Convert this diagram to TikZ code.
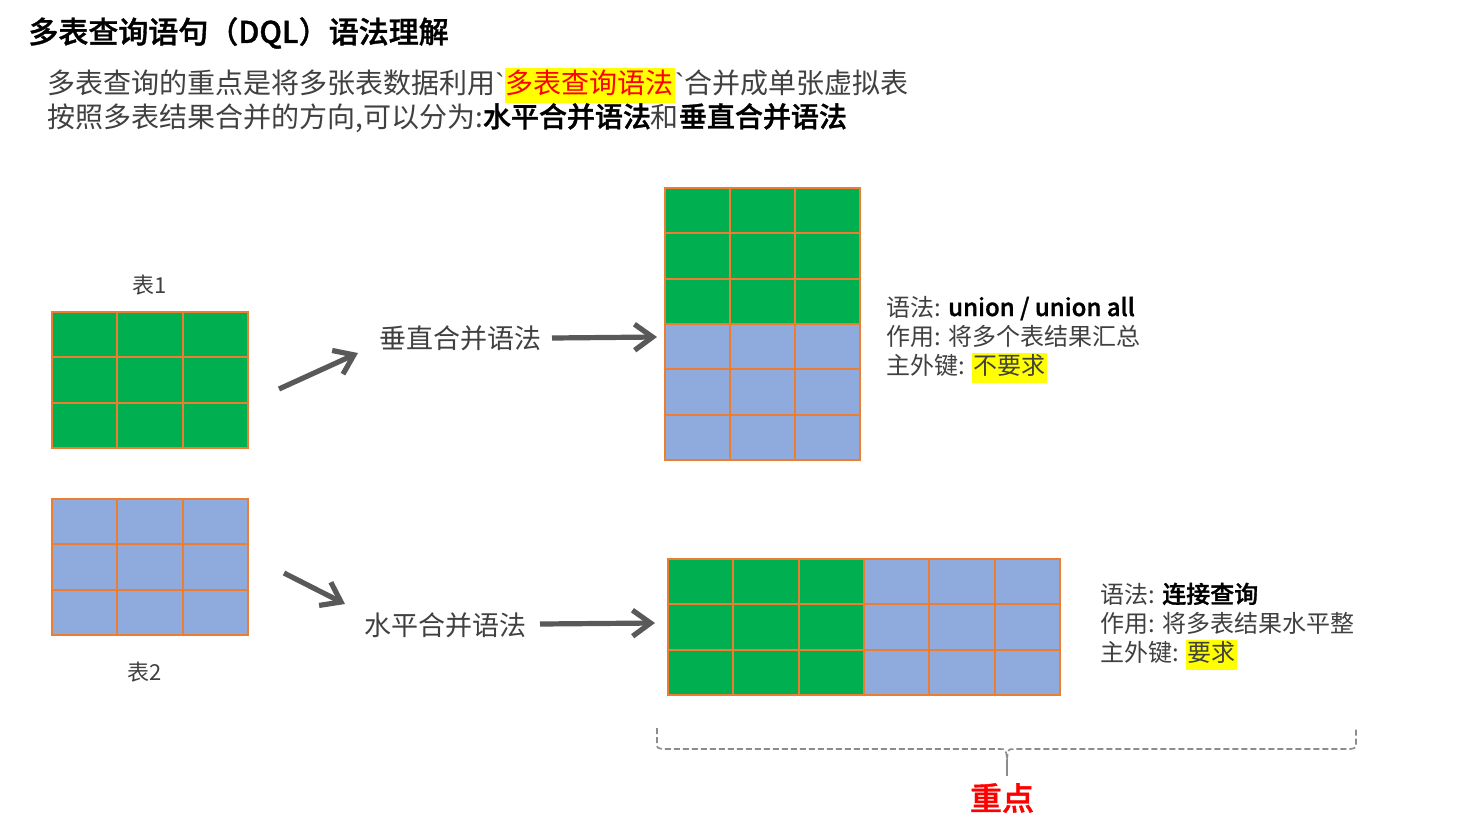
\documentclass[tikz,border=0pt]{standalone}
\usepackage{fontspec}
\newfontfamily\cjk{Noto Sans CJK SC}[BoldFont={Noto Sans CJK SC Medium},BoldFeatures={FakeBold=1.2}]
\newfontfamily\latgrave{Liberation Sans}
\usetikzlibrary{arrows.meta}
\definecolor{cg}{HTML}{00B050}
\definecolor{cb}{HTML}{8FAADC}
\definecolor{co}{HTML}{ED7D31}
\definecolor{ca}{HTML}{595959}
\definecolor{ct}{HTML}{404040}
\definecolor{hl}{HTML}{FFFF00}
\definecolor{cr}{HTML}{FF0000}
\newcommand\hlbox[1]{{\setlength{\fboxsep}{0.6pt}\colorbox{hl}{\strut #1}}}
\newcommand\grv{{\latgrave\symbol{96}}}
\begin{document}
\begin{tikzpicture}[x=0.5pt,y=-0.5pt,
  every node/.style={font=\cjk, inner sep=0pt, text=ct},
  cell/.style={draw=co, line width=1pt},
  arr/.style={draw=ca, line width=2.6pt, -{Straight Barb[length=9pt,width=13pt,line width=2.6pt]}},
  lbl/.style={font=\cjk\fontsize{13.5}{16}\selectfont, anchor=center},
  info/.style={font=\cjk\fontsize{12}{12.5}\selectfont, anchor=base west},
  body/.style={font=\cjk\fontsize{14}{14.2}\selectfont, anchor=base west},
  brace/.style={draw=black!45, line width=0.8pt, dash pattern=on 3pt off 1.5pt}]
\useasboundingbox[fill=white] (0,0) rectangle (1457,821);

% title and body
\node[anchor=west, text=black, font=\cjk\bfseries\fontsize{15}{18}\selectfont] (title) at (28,33) {多表查询语句（DQL）语法理解};
\node[body] (l1) at (47,93) {多表查询的重点是将多张表数据利用\grv\hlbox{\textcolor{cr}{多表查询语法}}\grv 合并成单张虚拟表};
\node[body] (l2) at (47,127) {按照多表结果合并的方向,可以分为:{\bfseries\color{black}水平合并语法}和{\bfseries\color{black}垂直合并语法}};

% table 1 (green)
\node (cap1) at (150,285) {\fontsize{11}{13}\selectfont 表1};
\node (t1) at (150,380) [minimum width=98pt, minimum height=68pt] {};
\foreach \i in {0,1,2} \foreach \j in {0,1,2}
  \draw[cell, fill=cg] (52+65.33*\i,312+45.33*\j) rectangle ++(65.33,45.33);

% table 2 (blue)
\node (t2) at (150,567) [minimum width=98pt, minimum height=68pt] {};
\foreach \i in {0,1,2} \foreach \j in {0,1,2}
  \draw[cell, fill=cb] (52+65.33*\i,499+45.33*\j) rectangle ++(65.33,45.33);
\node (cap2) at (145,672) {\fontsize{11}{13}\selectfont 表2};

% vertical result
\node (vres) at (762.5,324) [minimum width=97.5pt, minimum height=136pt] {};
\foreach \i in {0,1,2} \foreach \j in {0,1,2}
  \draw[cell, fill=cg] (665+65*\i,188+45.33*\j) rectangle ++(65,45.33);
\foreach \i in {0,1,2} \foreach \j in {3,4,5}
  \draw[cell, fill=cb] (665+65*\i,188+45.33*\j) rectangle ++(65,45.33);

% horizontal result
\node (hres) at (864,627) [minimum width=196pt, minimum height=68pt] {};
\foreach \i in {0,1,2} \foreach \j in {0,1,2}
  \draw[cell, fill=cg] (668+65.33*\i,559+45.33*\j) rectangle ++(65.33,45.33);
\foreach \i in {3,4,5} \foreach \j in {0,1,2}
  \draw[cell, fill=cb] (668+65.33*\i,559+45.33*\j) rectangle ++(65.33,45.33);

% labels
\node[lbl] (vlab) at (460,338) {垂直合并语法};
\node[lbl] (hlab) at (445,625) {水平合并语法};

% arrows
\coordinate (a1s) at (279,389); \coordinate (a1e) at (358,353);
\coordinate (a2s) at (284,573); \coordinate (a2e) at (345,604);
\coordinate (a3s) at (552,338); \coordinate (a3e) at (657,337);
\coordinate (a4s) at (540,624); \coordinate (a4e) at (655,623);
\draw[arr] (a1s) -- (a1e);
\draw[arr] (a2s) -- (a2e);
\draw[arr] (a3s) -- (a3e);
\draw[arr] (a4s) -- (a4e);

% info texts
\node[info] (i1) at (886,316) {语法: {\bfseries\color{black}union / union all}};
\node[info] (i2) at (886,345) {作用: 将多个表结果汇总};
\node[info] (i3) at (886,374) {主外键: \hlbox{不要求}};
\node[info] (j1) at (1100,603) {语法: {\bfseries\color{black}连接查询}};
\node[info] (j2) at (1100,632) {作用: 将多表结果水平整};
\node[info] (j3) at (1100,661) {主外键: \hlbox{要求}};

% brace
\coordinate (bl) at (657,728); \coordinate (br) at (1356,728); \coordinate (bt) at (1007,760);
\draw[brace] (bl) -- (657,743) .. controls (657,748) .. (663,749) -- (1000,749) .. controls (1006,749) .. (bt);
\draw[brace] (bt) .. controls (1008,749) .. (1014,749) -- (1350,749) .. controls (1356,748) .. (1356,743) -- (br);
\coordinate (bs) at (1007,776);
\draw[draw=black!45, line width=0.8pt] (bt) -- (bs);
\node[text=cr, font=\cjk\bfseries\fontsize{16}{19}\selectfont] (key) at (1002,798) {重点};
\end{tikzpicture}
\end{document}
